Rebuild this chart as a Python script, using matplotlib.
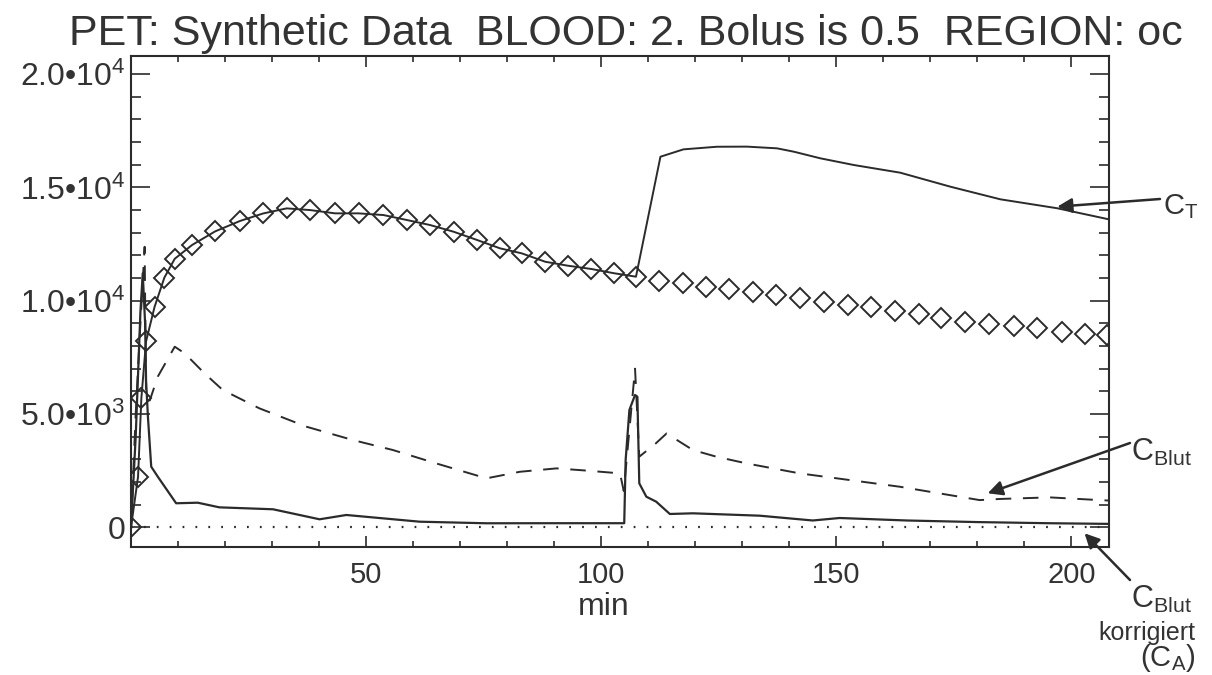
import numpy as np
import matplotlib
matplotlib.use('Agg')
import matplotlib.pyplot as plt

plt.rcParams['font.family'] = ['Liberation Sans', 'DejaVu Sans']
plt.rcParams['mathtext.fontset'] = 'custom'
plt.rcParams['mathtext.rm'] = 'Liberation Sans'
plt.rcParams['mathtext.it'] = 'Liberation Sans:italic'
plt.rcParams['mathtext.bf'] = 'Liberation Sans:bold'

# measured tissue activity (diamonds)
tissue_t = [0, 1.5, 2.2, 3.2, 5.0, 7.1, 9.3, 13.0, 17.9, 23.2, 28.1, 33.1, 38.1,
            43.4, 48.4, 53.7, 58.7, 63.6, 68.6, 73.6, 78.5, 83.1, 88.1, 92.9,
            97.9, 102.8, 107.4, 112.3, 117.3, 122.2, 127.2, 132.2, 137.2, 142.3,
            147.3, 152.5, 157.4, 162.4, 167.5, 172.3, 177.3, 182.4, 187.7, 192.7,
            198.0, 203.0, 207.5]
tissue_y = [0, 2230, 5690, 8200, 9720, 11020, 11850, 12460, 13060, 13520, 13850,
            14075, 14000, 13855, 13855, 13780, 13560, 13340, 13045, 12680, 12310,
            12090, 11720, 11545, 11400, 11210, 11060, 10880, 10770, 10620, 10515,
            10370, 10250, 10105, 9955, 9810, 9710, 9560, 9410, 9220, 9070, 8970,
            8880, 8780, 8630, 8530, 8490]

# model tissue curve C_T (solid)
ct_t = [0, 1.5, 2.2, 3.2, 5.0, 7.1, 9.3, 13.0, 17.9, 23.2, 28.1, 33.1, 38.1,
        43.4, 48.4, 53.7, 58.7, 63.6, 68.6, 73.6, 78.5, 83.1, 88.1, 92.9, 97.9,
        102.8, 107.4, 112.6, 117.5, 124.6, 131.0, 137.4, 141.0, 146.6, 153.7,
        163.6, 174.3, 184.9, 197.0, 208.0]
ct_y = [0, 2230, 5690, 8200, 9720, 11020, 11850, 12460, 13060, 13520, 13850,
        14075, 14000, 13855, 13855, 13780, 13560, 13340, 13045, 12680, 12310,
        12090, 11720, 11545, 11400, 11210, 11060, 16355, 16680, 16795, 16800,
        16725, 16575, 16285, 15990, 15650, 15030, 14475, 14080, 13590]

# blood curve C_Blut (dashed)
blut_t = [0, 1.0, 2.0, 2.9, 3.2, 4.0, 5.7, 9.3, 11.4, 15.6, 19.5, 27.3, 37.3,
          47.2, 55.7, 64.9, 75.6, 82.7, 90.5, 97.0, 104.0, 104.8, 107.2, 108.1,
          111.6, 113.9, 119.5, 124.5, 130.9, 142.2, 163.5, 180.5, 184.8, 195.4,
          206.0, 208.0]
blut_y = [0, 5000, 9000, 12380, 5620, 5600, 6650, 7970, 7680, 6800, 6060, 5250,
          4440, 3850, 3410, 2820, 2160, 2450, 2600, 2500, 2380, 1600, 7000, 3115,
          3700, 4140, 3410, 3115, 2820, 2380, 1790, 1200, 1250, 1320, 1200, 1180]

# second blood curve (solid, lower)
input_t = [0, 1.0, 2.0, 2.5, 3.0, 3.2, 3.6, 4.3, 5.7, 9.6, 14.2, 18.8, 30.2,
           40.1, 45.8, 61.4, 75.6, 90.0, 104.9, 105.2, 106.0, 107.2, 107.7,
           108.1, 109.6, 111.7, 114.6, 119.5, 133.7, 145.0, 150.7, 165.0, 180.0,
           195.0, 208.0]
input_y = [0, 4000, 9500, 11210, 9000, 6500, 4880, 2675, 2233, 1060, 1085, 880,
           795, 353, 543, 247, 177, 180, 180, 2970, 5180, 5840, 5760, 1940, 1350,
           1130, 587, 617, 512, 300, 410, 300, 230, 180, 150]

# corrected blood C_A (dotted)
ca_t = [0, 50, 100, 150, 208]
ca_y = [0, 0, 0, 0, 0]

y_ticks = [0, 5000, 10000, 15000, 20000]
y_labels = ['0', r'5.0•10$^{3}$', r'1.0•10$^{4}$', r'1.5•10$^{4}$', r'2.0•10$^{4}$']
x_ticks = [50, 100, 150, 200]

ink = '#2b2b2b'
txt = '#333333'
W, H = 1212, 675

fig = plt.figure(figsize=(W / 100, H / 100), dpi=100)
ax = fig.add_axes([131 / W, 1 - 547 / H, (1109 - 131) / W, (547 - 56) / H])

ax.plot(ct_t, ct_y, color=ink, lw=1.4)
ax.plot(tissue_t, tissue_y, ls='none', marker='D', ms=10, mfc='none',
        mec=ink, mew=1.4)
ax.plot(blut_t, blut_y, color=ink, lw=1.4, ls=(0, (8, 6)))
ax.plot(input_t, input_y, color=ink, lw=1.6)
ax.plot(ca_t, ca_y, color=ink, lw=1.6, ls=(0, (0.8, 5)))

ax.set_xlim(0, 208)
ax.set_ylim(-870, 20800)

ax.set_xticks(x_ticks)
ax.set_xticks(np.arange(10, 210, 10), minor=True)
ax.set_yticks(y_ticks)
ax.set_yticklabels(y_labels)
ax.set_yticks(np.arange(1000, 20800, 1000), minor=True)

ax.tick_params(axis='both', which='both', direction='in', top=True, right=True,
               color=ink, width=1.2)
ax.tick_params(axis='y', which='major', length=14, labelsize=23, pad=4)
ax.tick_params(axis='y', which='minor', length=7)
ax.tick_params(axis='x', which='major', length=8, labelsize=21, pad=10)
ax.tick_params(axis='x', which='minor', length=4)
for lab in ax.get_xticklabels() + ax.get_yticklabels():
    lab.set_color(txt)
for sp in ax.spines.values():
    sp.set_color(ink)
    sp.set_linewidth(1.5)

ax.set_xlabel('min', fontsize=23, color=txt)
ax.xaxis.label.set_va('center')
ax.xaxis.set_label_coords(0.483, (547 - 607) / (547 - 56))

fig.text(626 / W, 1 - 45 / H,
         'PET: Synthetic Data  BLOOD: 2. Bolus is 0.5  REGION: oc',
         ha='center', va='baseline', fontsize=31, color=txt)

arrow = dict(arrowstyle='-|>', color=ink, lw=1.8, mutation_scale=22,
             shrinkA=0, shrinkB=0)
ax.annotate('', xy=(197, 14150), xytext=(1160, H - 199),
            textcoords='figure pixels', arrowprops=arrow)
ax.annotate('', xy=(182.2, 1500), xytext=(1130, H - 443),
            textcoords='figure pixels', arrowprops=arrow)
ax.annotate('', xy=(202.8, -265), xytext=(1130, H - 580),
            textcoords='figure pixels', arrowprops=arrow, annotation_clip=False)

fig.text(1163 / W, 1 - 207 / H, r'C$_{\mathrm{T}}$', fontsize=21,
         va='center', color=txt)
fig.text(1131 / W, 1 - 452 / H, r'C$_{\mathrm{Blut}}$', fontsize=22,
         va='center', color=txt)
fig.text(1131 / W, 1 - 599 / H, r'C$_{\mathrm{Blut}}$', fontsize=22,
         va='center', color=txt)
fig.text(1195 / W, 1 - 633 / H, 'korrigiert', fontsize=18, ha='right',
         va='center', color=txt)
fig.text(1195 / W, 1 - 658 / H, r'(C$_{\mathrm{A}}$)', fontsize=21, ha='right',
         va='center', color=txt)

fig.savefig('out.png', dpi=100, facecolor='white')
